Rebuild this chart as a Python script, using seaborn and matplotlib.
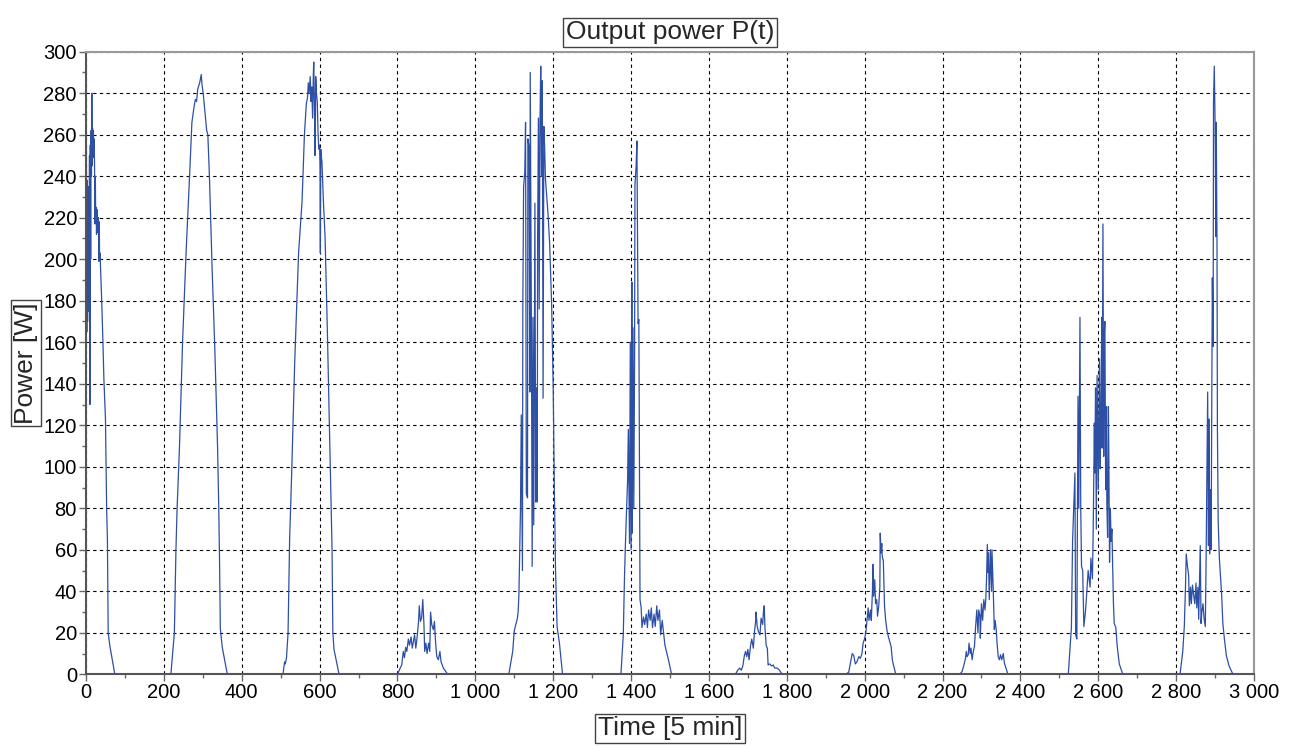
import numpy as np
import pandas as pd
import matplotlib
matplotlib.use("Agg")
import matplotlib.pyplot as plt
from matplotlib.ticker import MultipleLocator, FuncFormatter
import seaborn as sns

# ------------------------------------------------------------------
# Datos: (tiempo [5 min], potencia [W]) por dia
# ------------------------------------------------------------------
day1 = [(0, 250), (1, 255), (2, 165), (3, 238), (4, 170), (5, 228), (6, 175), (7, 235),
        (8, 185), (9, 250), (10, 130), (11, 255), (12, 200), (13, 262), (14, 240), (15, 280),
        (16, 245), (17, 263), (18, 250), (19, 262), (20, 249), (21, 258), (22, 244), (23, 217),
        (24, 240), (25, 218), (26, 225), (27, 212), (28, 224), (29, 213), (30, 215), (32, 220),
        (33, 199), (34, 218), (35, 200), (36, 203), (38, 193), (40, 182), (43, 163), (46, 142),
        (50, 123), (53, 80), (55, 65), (57, 20), (61, 14), (74, 0)]

day2 = [(218, 0), (227, 20), (231, 60), (234, 80), (240, 109), (248, 160), (257, 203),
        (266, 240), (272, 266), (278, 274), (281, 277), (284, 276), (287, 282), (292, 285),
        (296, 289), (298, 284), (301, 280), (305, 272), (310, 262), (313, 260), (317, 240),
        (324, 195), (331, 156), (338, 109), (341, 80), (343, 55), (345, 22), (350, 13), (363, 0)]

day3 = [(506, 0), (510, 6), (512, 5), (515, 8), (519, 20), (523, 65), (528, 95), (536, 150),
        (546, 203), (555, 228), (561, 260), (566, 275), (569, 278), (571, 285), (573, 280),
        (576, 288), (578, 276), (580, 283), (582, 268), (584, 290), (585, 295), (586, 283),
        (587, 270), (588, 250), (589, 260), (590, 288), (592, 280), (594, 276), (596, 261),
        (598, 253), (600, 255), (601, 245), (602, 203), (603, 253), (604, 250), (606, 247),
        (610, 227), (614, 211), (620, 165), (628, 95), (632, 60), (634, 20), (637, 12), (650, 0)]

day4 = [(800, 0), (807, 3), (811, 4.5), (815, 11), (818, 8), (821, 13), (824, 11), (828, 17),
        (831, 14), (835, 18), (838, 12.6), (844, 19), (847, 12.6), (850, 17), (854, 25),
        (856, 33), (859, 25.5), (862, 27), (865, 36), (868, 24), (870, 11), (873, 15),
        (876, 10), (880, 15), (883, 11), (885, 30), (888, 24), (892, 21.5), (895, 25.5),
        (898, 15), (901, 8.5), (905, 7), (909, 11), (912, 6), (918, 3), (929, 0)]

day5 = [(1086, 0), (1096, 11), (1100, 21), (1104, 24), (1108, 27), (1110, 30), (1112, 39),
        (1114, 60), (1116, 80), (1118, 125), (1121, 50), (1122, 178), (1124, 235), (1127, 242),
        (1129, 266), (1131, 87), (1134, 85), (1135, 258), (1138, 254), (1140, 136), (1141, 290),
        (1144, 168), (1146, 52), (1148, 172), (1150, 72), (1153, 227), (1155, 83), (1157, 138),
        (1159, 83), (1160, 211), (1162, 268), (1164, 176), (1166, 266), (1168, 293), (1170, 240),
        (1172, 286), (1174, 133), (1176, 264), (1178, 254), (1180, 239), (1183, 231), (1187, 221),
        (1191, 207), (1196, 178), (1200, 138), (1203, 89), (1206, 50), (1210, 23), (1216, 15),
        (1224, 0)]

day6 = [(1374, 0), (1380, 19), (1383, 46), (1386, 66), (1391, 93), (1393, 118), (1396, 63),
        (1398, 160), (1400, 60), (1402, 189), (1403, 68), (1405, 167), (1407, 80), (1409, 152),
        (1410, 236), (1413, 245), (1415, 257), (1416, 228), (1418, 169), (1420, 171), (1421, 127),
        (1423, 36), (1426, 32), (1428, 22.5), (1432, 27.6), (1435, 24), (1439, 29), (1442, 22.5),
        (1445, 31), (1449, 26), (1452, 32), (1455, 22.5), (1459, 29), (1462, 23), (1466, 33),
        (1469, 26), (1473, 31), (1476, 19), (1480, 26), (1483, 21), (1487, 14), (1492, 10),
        (1496, 7), (1504, 0)]

day7 = [(1668, 0), (1674, 2), (1679, 3), (1683, 2), (1687, 4), (1691, 9), (1694, 11),
        (1697, 8.5), (1700, 12), (1703, 7), (1707, 14), (1710, 17), (1714, 12.6), (1717, 20.6),
        (1720, 25.5), (1721, 30), (1724, 23), (1727, 20.6), (1731, 19), (1734, 27), (1738, 24),
        (1740, 30), (1742, 33), (1744, 22), (1747, 14), (1750, 12.6), (1752, 4.5), (1756, 5),
        (1761, 4), (1765, 4.5), (1769, 3), (1775, 3), (1781, 2), (1788, 0)]

day8 = [(1951, 0), (1959, 1), (1963, 5), (1968, 10), (1972, 9), (1976, 5), (1980, 6),
        (1985, 8.5), (1989, 7.7), (1993, 10), (1996, 15), (1999, 16.6), (2003, 20), (2006, 26),
        (2009, 32), (2011, 26), (2015, 31), (2017, 26), (2020, 40), (2021, 53), (2023, 37.6),
        (2026, 45.6), (2028, 34), (2031, 36), (2033, 28), (2036, 32.7), (2039, 42), (2040, 68),
        (2042, 58.5), (2044, 63), (2045, 57), (2048, 54.5), (2051, 32.7), (2054, 26),
        (2057, 21.5), (2061, 18), (2064, 16), (2068, 13.4), (2071, 7), (2075, 3.7), (2080, 0)]

day9 = [(2244, 0), (2250, 1.3), (2255, 4.5), (2259, 7.7), (2261, 11), (2263, 8.5), (2266, 9.4),
        (2268, 15), (2271, 10), (2273, 12.6), (2276, 7), (2279, 11), (2282, 13.4), (2285, 23),
        (2288, 31), (2291, 20), (2293, 31), (2296, 28), (2297, 17.4), (2300, 34), (2303, 26),
        (2306, 36), (2309, 31), (2311, 36), (2313, 45.6), (2315, 62.6), (2317, 49), (2318, 58.5),
        (2320, 36), (2322, 52), (2323, 60), (2326, 40), (2327, 60), (2330, 42.4), (2333, 21.5),
        (2335, 26), (2338, 21.5), (2340, 15), (2343, 8.5), (2346, 7), (2349, 9.4), (2352, 7),
        (2356, 10), (2359, 5.3), (2363, 3), (2368, 0)]

day10 = [(2523, 0), (2531, 22.6), (2534, 64), (2537, 81), (2540, 97), (2542, 19), (2545, 17),
         (2548, 134), (2550, 80), (2553, 172), (2555, 80), (2557, 52), (2560, 50), (2563, 23),
         (2567, 30), (2570, 38), (2574, 50), (2579, 42), (2581, 56), (2585, 46), (2587, 70),
         (2590, 121), (2591, 97), (2593, 138), (2595, 70), (2597, 144), (2600, 89), (2602, 133),
         (2603, 152), (2605, 99), (2607, 129), (2609, 172), (2610, 109), (2612, 217), (2614, 105),
         (2615, 162), (2617, 170), (2619, 89), (2621, 129), (2622, 83), (2624, 66), (2626, 129),
         (2627, 109), (2629, 54), (2631, 80), (2633, 64), (2635, 70), (2639, 34), (2641, 24.5),
         (2645, 22.6), (2649, 13), (2654, 5), (2663, 0)]

day11 = [(2810, 0), (2817, 11), (2821, 23), (2824, 42), (2826, 58), (2829, 52), (2832, 48),
         (2834, 33), (2837, 42), (2839, 34), (2842, 43), (2845, 38), (2848, 34), (2851, 44),
         (2853, 32), (2856, 42), (2858, 26.5), (2860, 44), (2862, 62), (2864, 24.5), (2866, 30),
         (2869, 34), (2872, 26.5), (2875, 23), (2877, 56), (2879, 95), (2881, 136), (2883, 62),
         (2884, 123), (2886, 58), (2888, 89), (2890, 60), (2891, 109), (2893, 191), (2895, 158),
         (2896, 276), (2898, 293), (2900, 266), (2902, 211), (2903, 266), (2905, 207), (2906, 119),
         (2908, 74), (2911, 56), (2913, 50), (2917, 38), (2920, 24.5), (2924, 17), (2929, 9),
         (2936, 4), (2946, 0)]

dias = [day1, day2, day3, day4, day5, day6, day7, day8, day9, day10, day11]

x_ticks = list(range(0, 3001, 200))
y_ticks = list(range(0, 301, 20))

# ------------------------------------------------------------------
df = pd.DataFrame([p for d in dias for p in d], columns=["t", "P"])

sns.set_theme(style="white")
plt.rcParams["font.family"] = ["Liberation Sans", "DejaVu Sans"]

fig = plt.figure(figsize=(12.89, 7.47), dpi=100)
ax = fig.add_axes([86 / 1289, 1 - 674.3 / 747, (1254 - 86) / 1289, (674.3 - 51.7) / 747])

sns.lineplot(data=df, x="t", y="P", ax=ax, color="#2d4fa6", linewidth=0.9,
             sort=False, estimator=None)

ax.set_xlim(0, 3000)
ax.set_ylim(0, 300)
ax.set_xticks(x_ticks)
ax.set_yticks(y_ticks)
ax.xaxis.set_minor_locator(MultipleLocator(100))
ax.yaxis.set_minor_locator(MultipleLocator(10))
ax.xaxis.set_major_formatter(FuncFormatter(lambda v, p: f"{int(v):,}".replace(",", " ")))

ax.grid(True, which="major", color="black", linestyle=(0, (3, 3)), linewidth=0.8)
ax.tick_params(which="major", direction="out", length=5, width=1, color="#666666",
               labelsize=14.5, labelcolor="black", pad=1.5, left=True, bottom=True)
ax.tick_params(which="minor", direction="out", length=3, width=1, color="#666666",
               left=True, bottom=True)

for lado in ["left", "bottom"]:
    ax.spines[lado].set_color("#555555")
    ax.spines[lado].set_linewidth(1.5)
for lado in ["top", "right"]:
    ax.spines[lado].set_color("#999999")
    ax.spines[lado].set_linewidth(1.5)

caja = dict(boxstyle="square,pad=0.1", fc="white", ec="#444444", lw=1)
ax.set_title("Output power P(t)", fontsize=19, pad=9, bbox=caja)
ax.set_xlabel("Time [5 min]", fontsize=19, labelpad=10, bbox=caja)
ax.set_ylabel("Power [W]", fontsize=19, labelpad=4, bbox=caja)

fig.savefig("out.png", dpi=100)
plt.close(fig)
